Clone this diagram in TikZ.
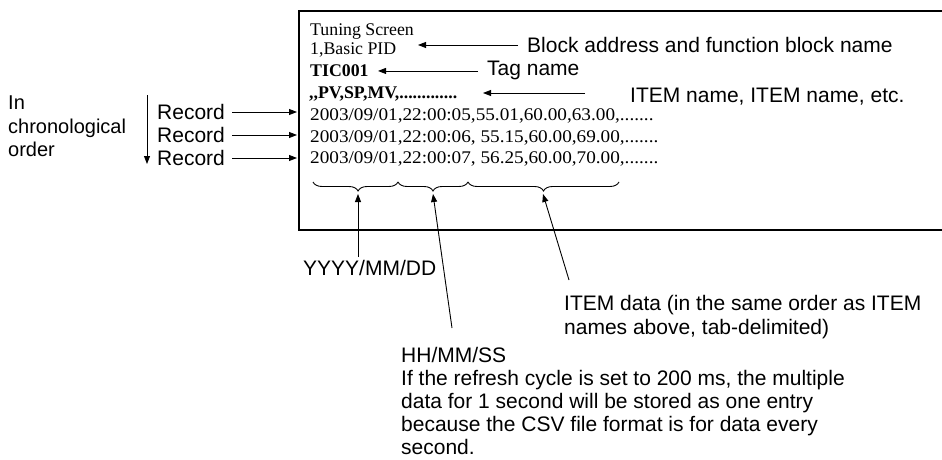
\documentclass[tikz,border=0pt]{standalone}
\usepackage{fontspec}
\usepackage{graphicx}
\setmainfont{Liberation Serif}
\setsansfont{Liberation Sans}
\usetikzlibrary{arrows.meta,decorations.pathreplacing}
\begin{document}
\begin{tikzpicture}[x=1pt,y=-1pt,
  arr/.style={line width=0.9pt,-{Triangle[length=8pt,width=6pt]}},
  sans/.style={font=\sffamily\fontsize{21}{23.75}\selectfont, inner sep=0pt, align=left},
  serif/.style={font=\rmfamily\fontsize{17.8}{21}\selectfont, inner sep=0pt, anchor=base west},
  brc/.style={line width=0.9pt, decorate, decoration={brace,amplitude=9pt,mirror,aspect=#1}},
  boxline/.style={line width=1.3pt}]
\useasboundingbox (0,0) rectangle (942,460);

% screen frame (open to the right)
\coordinate (frTR) at (942,11);
\coordinate (frTL) at (299,11);
\coordinate (frBL) at (299,230);
\coordinate (frBR) at (942,230);
\draw[boxline] (frTR) -- (frTL) -- (frBL) -- (frBR);
\coordinate (boxL) at (297,0);

% file contents
\node[serif] (tun) at (310,35.5) {Tuning Screen};
\node[serif] (bas) at (310,55) {1,Basic PID};
\node[serif] (tic) at (310,76.5) {\textbf{TIC001}};
\node[serif] (pv) at (309,98) {\textbf{,\kern0pt,PV,SP,MV,\kern0pt.............}};
\node[serif] (row1) at (310,120.5) {\scalebox{1.08}[1]{2003/09/01,22:00:05,55.01,60.00,63.00,.......}};
\node[serif] (row2) at (310,142) {\scalebox{1.08}[1]{2003/09/01,22:00:06, 55.15,60.00,69.00,.......}};
\node[serif] (row3) at (310,163.5) {\scalebox{1.08}[1]{2003/09/01,22:00:07, 56.25,60.00,70.00,.......}};

% labels on the right
\node[sans, anchor=base west] (blk) at (527,52.5) {Block address and function block name};
\node[sans, anchor=base west] (tag) at (487,76) {Tag name};
\node[sans, anchor=base west] (itm) at (630,102) {ITEM name, ITEM name, etc.};

\coordinate (tipB) at (418,0);
\coordinate (tipT) at (378,0);
\coordinate (itmS) at (585,93);
\coordinate (itmE) at (483,93);
\draw[arr] ([xshift=-9pt]blk.west) -- (blk.west -| tipB);
\draw[arr] ([xshift=-9pt]tag.west) -- (tag.west -| tipT);
\draw[arr] (itmS) -- (itmE);

% left side
\node[sans, font=\sffamily\fontsize{20}{23.5}\selectfont, anchor=north west] (chron) at (8,95.7) {In\\chronological\\order};
\coordinate (chTop) at (147,95);
\coordinate (chBot) at (147,164);
\draw[arr] (chTop) -- (chBot);

\node[sans, anchor=base west] (rec1) at (157,119.5) {Record};
\node[sans, anchor=base west] (rec2) at (157,142.5) {Record};
\node[sans, anchor=base west] (rec3) at (157,165.5) {Record};
\draw[arr] ([xshift=7pt]rec1.east) -- (rec1.east -| boxL);
\draw[arr] ([xshift=7pt]rec2.east) -- (rec2.east -| boxL);
\draw[arr] ([xshift=7pt]rec3.east) -- (rec3.east -| boxL);

% braces
\draw[brc=0.53] (313,182) -- (398,182);
\draw[brc=0.5] (398,182) -- (468,182);
\draw[brc=0.5] (468,182) -- (619,182);
\coordinate (bt1) at (358,194);
\coordinate (bt2) at (433,194);
\coordinate (bt3) at (543,194);

% lower labels
\node[sans, anchor=base west] (ymd) at (303,275.5) {YYYY/MM/DD};
\node[sans, anchor=north west] (idata) at (564,295) {ITEM data (in the same order as ITEM\\names above, tab-delimited)};
\node[sans, font=\sffamily\fontsize{21}{23}\selectfont, anchor=north west] (hms) at (401,347) {HH/MM/SS\\If the refresh cycle is set to 200 ms, the multiple\\data for 1 second will be stored as one entry\\because the CSV file format is for data every\\second.};

\coordinate (l1) at (358,257);
\coordinate (l2) at (452,328);
\coordinate (l3) at (569,280);
\draw[arr] (l1) -- (bt1);
\draw[arr] (l2) -- (bt2);
\draw[arr] (l3) -- (bt3);
\end{tikzpicture}
\end{document}
